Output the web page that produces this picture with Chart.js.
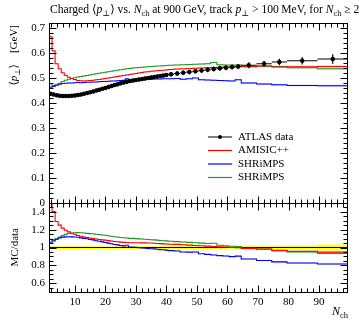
<!DOCTYPE html>
<html>
<head>
<meta charset="utf-8">
<script src="https://cdn.jsdelivr.net/npm/chart.js@4.4.1/dist/chart.umd.min.js"></script>
<style>
  html, body { margin: 0; padding: 0; background: #fff; }
  #wrap { position: relative; width: 362px; height: 320px; }
  #wrap canvas { position: absolute; left: 0; top: 0; }
</style>
</head>
<body>
<div id="wrap">
  <canvas id="main" width="362" height="320"></canvas>
  <canvas id="ratio" width="362" height="320"></canvas>
</div>
<script>
// Charged-particle multiplicity bins (edges), N_ch >= 2
const nchEdges = [
  1.5, 2.5, 3.5, 4.5, 5.5, 6.5, 7.5, 8.5, 9.5, 10.5,
  11.5, 12.5, 13.5, 14.5, 15.5, 16.5, 17.5, 18.5, 19.5, 20.5,
  21.5, 22.5, 23.5, 24.5, 25.5, 26.5, 27.5, 28.5, 29.5, 30.5,
  31.5, 32.5, 33.5, 34.5, 35.5, 36.5, 37.5, 38.5, 39.5, 40.5,
  42.5, 44.5, 46.5, 48.5, 50.5, 52.5, 54.5, 56.5, 58.5, 60.5, 62.5, 64.5,
  69.5, 74.5, 79.5, 89.5, 99.5
];

// Mean track pT [GeV] per bin
const atlasData = [
  0.437, 0.434, 0.431, 0.429, 0.428, 0.428, 0.428, 0.429, 0.430,
  0.432, 0.434, 0.437, 0.440, 0.443, 0.446, 0.450, 0.453, 0.457, 0.460,
  0.464, 0.468, 0.472, 0.475, 0.479, 0.482, 0.485, 0.488, 0.490, 0.492,
  0.494, 0.496, 0.498, 0.500, 0.502, 0.504, 0.506, 0.508, 0.510, 0.512,
  0.515, 0.518, 0.521, 0.524, 0.527, 0.530, 0.533, 0.536, 0.539, 0.541, 0.544, 0.546,
  0.551, 0.557, 0.564, 0.569, 0.576
];
const atlasErr = [
  0.007, 0.007, 0.007, 0.007, 0.007, 0.007, 0.007, 0.007, 0.007,
  0.007, 0.007, 0.007, 0.007, 0.007, 0.007, 0.007, 0.007, 0.007, 0.007,
  0.008, 0.008, 0.008, 0.008, 0.008, 0.008, 0.008, 0.008, 0.008, 0.008,
  0.008, 0.008, 0.008, 0.008, 0.008, 0.008, 0.008, 0.008, 0.008, 0.008,
  0.009, 0.009, 0.009, 0.009, 0.009, 0.009, 0.010, 0.010, 0.010, 0.010, 0.010, 0.010,
  0.012, 0.012, 0.013, 0.015, 0.019
];
const amisic = [
  0.665, 0.609, 0.557, 0.537, 0.521, 0.511, 0.503, 0.498, 0.494,
  0.490, 0.489, 0.488, 0.489, 0.490, 0.491, 0.493, 0.494, 0.496, 0.498,
  0.500, 0.502, 0.504, 0.506, 0.508, 0.510, 0.512, 0.514, 0.516, 0.518,
  0.520, 0.522, 0.524, 0.525, 0.527, 0.528, 0.529, 0.530, 0.531, 0.532,
  0.534, 0.536, 0.537, 0.538, 0.539, 0.540, 0.541, 0.542, 0.543, 0.544, 0.544, 0.545,
  0.545, 0.548, 0.544, 0.545, 0.546
];
const shrimpsA = [
  0.463, 0.466, 0.471, 0.475, 0.478, 0.479, 0.480, 0.480, 0.481,
  0.482, 0.481, 0.482, 0.483, 0.483, 0.484, 0.484, 0.485, 0.486, 0.486,
  0.487, 0.488, 0.488, 0.489, 0.490, 0.491, 0.497, 0.491, 0.492, 0.493,
  0.493, 0.494, 0.494, 0.495, 0.495, 0.496, 0.496, 0.496, 0.497, 0.497,
  0.497, 0.498, 0.495, 0.497, 0.500, 0.493, 0.492, 0.491, 0.490, 0.489, 0.488, 0.493,
  0.480, 0.476, 0.473, 0.470, 0.469
];
const shrimpsB = [
  0.477, 0.470, 0.473, 0.479, 0.486, 0.491, 0.495, 0.498, 0.501,
  0.504, 0.506, 0.508, 0.510, 0.512, 0.515, 0.517, 0.519, 0.521, 0.523,
  0.525, 0.527, 0.529, 0.531, 0.533, 0.535, 0.537, 0.538, 0.540, 0.541,
  0.542, 0.543, 0.544, 0.545, 0.546, 0.547, 0.548, 0.548, 0.549, 0.550,
  0.551, 0.552, 0.553, 0.554, 0.555, 0.556, 0.557, 0.562, 0.553, 0.552, 0.552, 0.552,
  0.546, 0.547, 0.546, 0.541, 0.537
];
// Statistical uncertainty of the generator runs
const mcErr = [
  0.001, 0.001, 0.001, 0.001, 0.001, 0.001, 0.001, 0.001, 0.001,
  0.0012, 0.0012, 0.0012, 0.0012, 0.0012, 0.0012, 0.0012, 0.0012, 0.0012, 0.0012,
  0.0012, 0.0012, 0.0012, 0.0012, 0.0012, 0.0012, 0.0012, 0.0012, 0.0012, 0.0012,
  0.0015, 0.0015, 0.0015, 0.0015, 0.0015, 0.0015, 0.0015, 0.0015, 0.0015, 0.0015,
  0.002, 0.002, 0.002, 0.002, 0.002, 0.002, 0.002, 0.002, 0.002, 0.002, 0.002, 0.002,
  0.003, 0.003, 0.0035, 0.0035, 0.004
];

const seriesNames = ['ATLAS data', 'AMISIC++', 'SHRiMPS', 'SHRiMPS'];
const ptTicks = [0, 0.1, 0.2, 0.3, 0.4, 0.5, 0.6, 0.7];
const ratioTicks = [0.6, 0.8, 1, 1.2, 1.4];
const nchTicks = [10, 20, 30, 40, 50, 60, 70, 80, 90];

// ---- layout & style ----
const CW = 362, CH = 320;
const LEFT = 49, RIGHT = 348, TOP = 23, MID = 203, BOTTOM = 292;
const SERIF = '"Liberation Serif", "DejaVu Serif", serif';
const FS = 11;
const TITLE_FS = 11.6;
const MAJOR = 7, MINOR = 4;

const mcSeries = [
  { name: seriesNames[1], vals: amisic,   color: '#ff0000', band: 'rgba(255,90,90,0.35)' },
  { name: seriesNames[2], vals: shrimpsA, color: '#0000ff', band: 'rgba(90,90,255,0.35)' },
  { name: seriesNames[3], vals: shrimpsB, color: '#229a22', band: 'rgba(90,180,90,0.35)' }
];

const xCentres = atlasData.map((_, i) => (nchEdges[i] + nchEdges[i + 1]) / 2);
const stepPoints = vals => {
  const pts = [];
  vals.forEach((v, i) => { pts.push({ x: nchEdges[i], y: v }, { x: nchEdges[i + 1], y: v }); });
  return pts;
};
const ratioOf = vals => vals.map((v, i) => v / atlasData[i]);

// ---- text helpers (italic / subscript runs) ----
function fontFor(kind, size) {
  const s = kind === 's' ? size * 0.72 : size;
  return (kind === 'i' ? 'italic ' : '') + s.toFixed(1) + 'px ' + SERIF;
}
function richWidth(ctx, parts, size) {
  let w = 0;
  parts.forEach(([t, k]) => { ctx.font = fontFor(k, size); w += ctx.measureText(t).width; });
  return w;
}
function drawRich(ctx, parts, x, y, size) {
  let cx = x;
  parts.forEach(([t, k]) => {
    ctx.font = fontFor(k, size);
    ctx.fillText(t, cx, y + (k === 's' ? size * 0.28 : 0));
    cx += ctx.measureText(t).width;
  });
}

// ---- frame with inward major/minor ticks on all four sides ----
function drawFrame(chart, yMajors, yMinorStep) {
  const { ctx, chartArea: a, scales: { x: xs, y: ys } } = chart;
  const px = v => Math.round(v) + 0.5;
  const l = px(a.left), r = px(a.right - 1), t = px(a.top), b = px(a.bottom);
  ctx.save();
  ctx.strokeStyle = '#000';
  ctx.lineWidth = 1;
  ctx.strokeRect(l, t, r - l, b - t);
  ctx.beginPath();
  for (let v = Math.ceil(xs.min / 2) * 2; v <= xs.max; v += 2) {
    const len = nchTicks.includes(v) ? MAJOR : MINOR;
    const xp = px(xs.getPixelForValue(v));
    ctx.moveTo(xp, t); ctx.lineTo(xp, t + len);
    ctx.moveTo(xp, b); ctx.lineTo(xp, b - len);
  }
  const k0 = Math.ceil(ys.min / yMinorStep - 1e-6), k1 = Math.floor(ys.max / yMinorStep + 1e-6);
  for (let k = k0; k <= k1; k++) {
    const v = k * yMinorStep;
    const len = yMajors.some(m => Math.abs(m - v) < 1e-6) ? MAJOR : MINOR;
    const yp = px(ys.getPixelForValue(v));
    ctx.moveTo(l, yp); ctx.lineTo(l + len, yp);
    ctx.moveTo(r, yp); ctx.lineTo(r - len, yp);
  }
  ctx.stroke();
  ctx.restore();
}

function drawMcBands(chart, relative) {
  const { ctx, chartArea: a, scales: { x, y } } = chart;
  ctx.save();
  ctx.beginPath();
  ctx.rect(a.left, a.top, a.right - a.left, a.bottom - a.top);
  ctx.clip();
  mcSeries.forEach(s => {
    ctx.fillStyle = s.band;
    s.vals.forEach((v, i) => {
      const d = relative ? atlasData[i] : 1;
      const x0 = x.getPixelForValue(nchEdges[i]);
      const x1 = x.getPixelForValue(nchEdges[i + 1]);
      const y0 = y.getPixelForValue((v + mcErr[i]) / d);
      const y1 = y.getPixelForValue((v - mcErr[i]) / d);
      ctx.fillRect(x0, y0, x1 - x0, y1 - y0);
    });
  });
  ctx.restore();
}

function drawDataErrors(chart) {
  const { ctx, scales: { x, y } } = chart;
  ctx.save();
  ctx.strokeStyle = '#000';
  ctx.lineWidth = 1.2;
  ctx.beginPath();
  atlasData.forEach((v, i) => {
    const xc = x.getPixelForValue(xCentres[i]);
    const yc = y.getPixelForValue(v);
    ctx.moveTo(x.getPixelForValue(nchEdges[i]), yc);
    ctx.lineTo(x.getPixelForValue(nchEdges[i + 1]), yc);
    ctx.moveTo(xc, y.getPixelForValue(v + atlasErr[i]));
    ctx.lineTo(xc, y.getPixelForValue(v - atlasErr[i]));
  });
  ctx.stroke();
  ctx.restore();
}

const titleParts = [
  ['Charged ', ''], ['\u27E8', ''], ['p', 'i'], ['\u22A5', 's'], ['\u27E9', ''],
  [' vs. ', ''], ['N', 'i'], ['ch', 's'], [' at 900\u2009GeV, track ', ''],
  ['p', 'i'], ['\u22A5', 's'], [' > 100\u2009MeV, for ', ''], ['N', 'i'], ['ch', 's'], [' \u2265 2', '']
];
const yLabelParts = [['\u27E8', ''], ['p', 'i'], ['\u22A5', 's'], ['\u27E9', ''], ['\u2003[GeV]', '']];
const ratioLabelParts = [['MC/data', '']];
const xLabelParts = [['N', 'i'], ['ch', 's']];

function drawRotated(ctx, parts, xBase, yEnd, size) {
  const w = richWidth(ctx, parts, size);
  ctx.save();
  ctx.translate(xBase, yEnd);
  ctx.rotate(-Math.PI / 2);
  drawRich(ctx, parts, -w, 0, size);
  ctx.restore();
}

function drawLegend(chart) {
  const ctx = chart.ctx;
  const rows = [137, 150.5, 164, 177.5];
  const colors = ['#000'].concat(mcSeries.map(s => s.color));
  ctx.save();
  ctx.textBaseline = 'middle';
  ctx.fillStyle = '#000';
  seriesNames.forEach((name, i) => {
    const y = rows[i];
    ctx.strokeStyle = colors[i];
    ctx.lineWidth = i === 0 ? 1 : 1.2;
    ctx.beginPath();
    ctx.moveTo(208, y); ctx.lineTo(232, y);
    ctx.stroke();
    if (i === 0) {
      ctx.beginPath(); ctx.arc(220, y, 2, 0, Math.PI * 2); ctx.fill();
    }
    ctx.font = FS + 'px ' + SERIF;
    ctx.fillText(name, 238, y);
  });
  ctx.restore();
}

const tickFont = { family: SERIF, size: FS };

const topDecor = {
  id: 'topDecor',
  beforeDatasetsDraw(chart) { drawMcBands(chart, false); },
  afterDatasetsDraw(chart) { drawDataErrors(chart); },
  afterDraw(chart) {
    const ctx = chart.ctx;
    drawFrame(chart, ptTicks, 0.02);
    ctx.save();
    ctx.fillStyle = '#000';
    ctx.textBaseline = 'alphabetic';
    drawRich(ctx, titleParts, 50, 13, TITLE_FS);
    drawRotated(ctx, yLabelParts, 17, 25, FS);
    ctx.restore();
    drawLegend(chart);
  }
};

const ratioDecor = {
  id: 'ratioDecor',
  beforeDatasetsDraw(chart) { drawMcBands(chart, true); },
  afterDraw(chart) {
    const ctx = chart.ctx;
    drawFrame(chart, ratioTicks, 0.05);
    ctx.save();
    ctx.fillStyle = '#000';
    ctx.textBaseline = 'alphabetic';
    drawRotated(ctx, ratioLabelParts, 18, 228, FS);
    const w = richWidth(ctx, xLabelParts, 12);
    drawRich(ctx, xLabelParts, RIGHT - w, 315, 12);
    ctx.restore();
  }
};

const commonX = { type: 'linear', min: nchEdges[0], max: nchEdges[nchEdges.length - 1] };
const yAxis = (min, max, tickList) => ({
  type: 'linear', min, max,
  afterFit(s) { s.width = LEFT; },
  afterBuildTicks(s) { s.ticks = tickList.map(v => ({ value: v })); },
  ticks: { callback: v => String(v), font: tickFont, color: '#000', padding: 4 },
  grid: { display: false, drawTicks: false },
  border: { display: false }
});

Chart.defaults.font.family = SERIF;

new Chart(document.getElementById('main'), {
  type: 'line',
  data: {
    datasets: [
      {
        type: 'scatter', label: seriesNames[0],
        data: xCentres.map((x, i) => ({ x, y: atlasData[i] })),
        pointRadius: 2.2, pointBackgroundColor: '#000', pointBorderWidth: 0,
        showLine: false, order: 0
      },
      ...mcSeries.map((s, k) => ({
        label: s.name, data: stepPoints(s.vals),
        borderColor: s.color, borderWidth: 1.1, pointRadius: 0,
        tension: 0, fill: false, order: k + 1, clip: 0
      }))
    ]
  },
  options: {
    responsive: false, animation: false, devicePixelRatio: 1,
    layout: { padding: { left: 0, right: CW - RIGHT, top: TOP, bottom: CH - MID } },
    plugins: { legend: { display: false }, tooltip: { enabled: false }, title: { display: false } },
    scales: {
      x: Object.assign({}, commonX, { display: false }),
      y: yAxis(0, 0.72, ptTicks)
    }
  },
  plugins: [topDecor]
});

new Chart(document.getElementById('ratio'), {
  type: 'line',
  data: {
    datasets: [
      {
        label: 'data band up', data: stepPoints(atlasData.map((v, i) => (v + atlasErr[i]) / v)),
        borderColor: 'rgba(0,0,0,0)', borderWidth: 0, pointRadius: 0, tension: 0,
        fill: '+1', backgroundColor: '#ffff22', order: 10, clip: 0
      },
      {
        label: 'data band down', data: stepPoints(atlasData.map((v, i) => (v - atlasErr[i]) / v)),
        borderColor: 'rgba(0,0,0,0)', borderWidth: 0, pointRadius: 0, tension: 0,
        fill: false, order: 11, clip: 0
      },
      {
        label: seriesNames[0], data: stepPoints(ratioOf(atlasData)),
        borderColor: '#000', borderWidth: 1.1, pointRadius: 0, tension: 0,
        fill: false, order: 5, clip: 0
      },
      ...mcSeries.map((s, k) => ({
        label: s.name, data: stepPoints(ratioOf(s.vals)),
        borderColor: s.color, borderWidth: 1.1, pointRadius: 0,
        tension: 0, fill: false, order: k + 1, clip: 0
      }))
    ]
  },
  options: {
    responsive: false, animation: false, devicePixelRatio: 1,
    layout: { padding: { left: 0, right: CW - RIGHT, top: MID, bottom: 0 } },
    plugins: { legend: { display: false }, tooltip: { enabled: false }, title: { display: false } },
    scales: {
      x: Object.assign({}, commonX, {
        afterFit(s) { s.height = CH - BOTTOM; },
        afterBuildTicks(s) { s.ticks = nchTicks.map(v => ({ value: v })); },
        ticks: { callback: v => String(v), font: tickFont, color: '#000', padding: 4, maxRotation: 0, autoSkip: false },
        grid: { display: false, drawTicks: false },
        border: { display: false }
      }),
      y: yAxis(0.5, 1.5, ratioTicks)
    }
  },
  plugins: [ratioDecor]
});
</script>
</body>
</html>
